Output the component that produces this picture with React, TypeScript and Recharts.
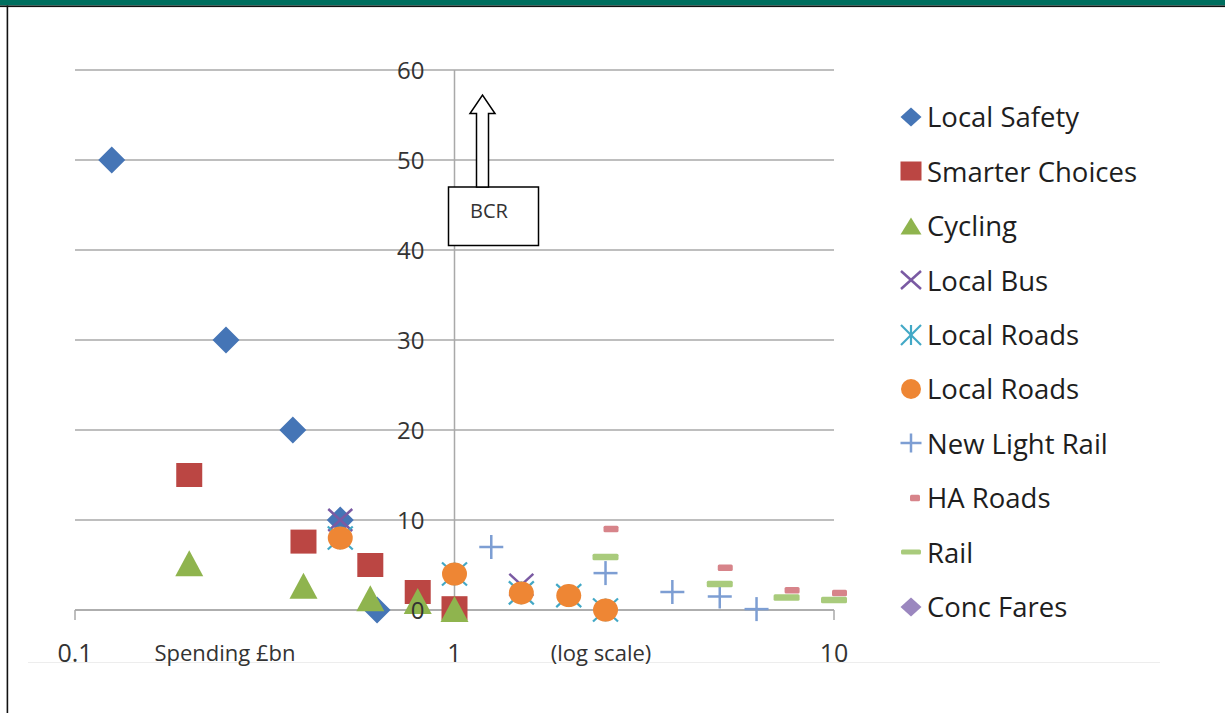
import React from 'react'
import {
  ScatterChart,
  Scatter,
  XAxis,
  YAxis,
  CartesianGrid,
  ReferenceLine,
  ReferenceDot,
  Legend,
} from 'recharts'

const FONT = '"Open Sans", "Noto Sans", sans-serif'
const AXIS = '#a9a9a9'
const LABEL = '#333333'

const X_TICKS = [0.1, 1, 10]
const Y_TICKS = [0, 10, 20, 30, 40, 50, 60]

// spending (£bn) and BCR per scheme type
const localSafetySpend = [0.125, 0.25, 0.375, 0.5, 0.625]
const localSafetyBcr = [50, 30, 20, 10, 0]
const smarterSpend = [0.2, 0.4, 0.6, 0.8, 1.0]
const smarterBcr = [15, 7.6, 5, 2, 0.2]
const cyclingSpend = [0.2, 0.4, 0.6, 0.8, 1.0]
const cyclingBcr = [5.2, 2.7, 1.3, 1.0, 0.1]
const busSpend = [0.5, 1.5]
const busBcr = [10, 2.8]
const roadsSpend = [0.5, 1.0, 1.5, 2.0, 2.5]
const roadsBcr = [8, 4, 1.9, 1.6, 0]
const lightRailSpend = [1.25, 2.5, 3.75, 5, 6.25]
const lightRailBcr = [7, 4.1, 2, 1.5, 0.1]
const haSpend = [2.5, 5, 7.5, 10]
const haBcr = [9, 4.7, 2.2, 1.9]
const railSpend = [2.5, 5, 7.5, 10]
const railBcr = [5.9, 2.9, 1.4, 1.1]
const concSpend: number[] = []
const concBcr: number[] = []

const zip = (xs: number[], ys: number[]) => xs.map((x, i) => ({ x, y: ys[i] }))

type Kind = 'diamond' | 'square' | 'triangle' | 'x' | 'star' | 'circle' | 'plus' | 'dash'

function marker(kind: Kind, cx: number, cy: number, w: number, h: number, color: string, dx = 0) {
  const hw = w / 2
  const hh = h / 2
  switch (kind) {
    case 'diamond':
      return <polygon points={`${cx},${cy - hh} ${cx + hw},${cy} ${cx},${cy + hh} ${cx - hw},${cy}`} fill={color} />
    case 'square':
      return <rect x={cx - hw} y={cy - hh} width={w} height={h} fill={color} />
    case 'triangle':
      return <polygon points={`${cx},${cy - hh} ${cx + hw},${cy + hh} ${cx - hw},${cy + hh}`} fill={color} />
    case 'circle':
      return <ellipse cx={cx} cy={cy} rx={hw} ry={hh} fill={color} />
    case 'x':
      return (
        <g stroke={color} strokeWidth={2.5}>
          <line x1={cx - hw} y1={cy - hh} x2={cx + hw} y2={cy + hh} />
          <line x1={cx - hw} y1={cy + hh} x2={cx + hw} y2={cy - hh} />
        </g>
      )
    case 'star':
      return (
        <g stroke={color} strokeWidth={2.2}>
          <line x1={cx - hw} y1={cy - hh} x2={cx + hw} y2={cy + hh} />
          <line x1={cx - hw} y1={cy + hh} x2={cx + hw} y2={cy - hh} />
          <line x1={cx} y1={cy - hh} x2={cx} y2={cy + hh} />
        </g>
      )
    case 'plus':
      return (
        <g stroke={color} strokeWidth={2.5}>
          <line x1={cx - hw} y1={cy} x2={cx + hw} y2={cy} />
          <line x1={cx} y1={cy - hh} x2={cx} y2={cy + hh} />
        </g>
      )
    case 'dash':
      return <rect x={cx + dx - hw} y={cy - hh} width={w} height={h} rx={1.5} fill={color} />
  }
}

type Series = {
  name: string
  data: { x: number; y: number }[]
  kind: Kind
  color: string
  w: number
  h: number
  lw: number
  lh: number
  dx?: number
}

const SERIES: Series[] = [
  { name: 'Local Safety', data: zip(localSafetySpend, localSafetyBcr), kind: 'diamond', color: '#4575b6', w: 27, h: 27, lw: 21, lh: 19 },
  { name: 'Smarter Choices', data: zip(smarterSpend, smarterBcr), kind: 'square', color: '#bb4643', w: 26, h: 24, lw: 21, lh: 19 },
  { name: 'Cycling', data: zip(cyclingSpend, cyclingBcr), kind: 'triangle', color: '#8fb44e', w: 28, h: 26, lw: 21, lh: 17 },
  { name: 'Local Bus', data: zip(busSpend, busBcr), kind: 'x', color: '#7a5aa3', w: 24, h: 22, lw: 20, lh: 18 },
  { name: 'Local Roads', data: zip(roadsSpend, roadsBcr), kind: 'star', color: '#42a8c6', w: 25, h: 23, lw: 20, lh: 20 },
  { name: 'Local Roads', data: zip(roadsSpend, roadsBcr), kind: 'circle', color: '#ee8634', w: 25, h: 23, lw: 20, lh: 20 },
  { name: 'New Light Rail', data: zip(lightRailSpend, lightRailBcr), kind: 'plus', color: '#7d9ed3', w: 24, h: 24, lw: 21, lh: 19 },
  { name: 'HA Roads', data: zip(haSpend, haBcr), kind: 'dash', color: '#d7848a', w: 15, h: 6.5, lw: 10, lh: 6.5, dx: 5.5 },
  { name: 'Rail', data: zip(railSpend, railBcr), kind: 'dash', color: '#a9cb7c', w: 26, h: 6.5, lw: 20, lh: 5 },
  { name: 'Conc Fares', data: zip(concSpend, concBcr), kind: 'diamond', color: '#9b87bf', w: 27, h: 27, lw: 21, lh: 19 },
]

const XTick = ({ x, y, payload }: any) => (
  <text x={x} y={y + 30} textAnchor="middle" dominantBaseline="central" fontSize={25} fill={LABEL} fontFamily={FONT}>
    {payload.value}
  </text>
)

const renderLegend = () => (
  <div style={{ fontFamily: FONT }}>
    {SERIES.map((s, i) => (
      <div key={i} style={{ display: 'flex', alignItems: 'center', height: 54.4 }}>
        <svg width={24} height={24} style={{ flex: 'none' }}>
          {marker(s.kind, 12, 12, s.lw, s.lh, s.color, s.kind === 'dash' && s.dx ? 4 : 0)}
        </svg>
        <span style={{ marginLeft: 4, fontSize: 27.5, color: '#1e1e1e', whiteSpace: 'nowrap' }}>{s.name}</span>
      </div>
    ))}
  </div>
)

export default function App() {
  return (
    <div style={{ position: 'absolute', left: 0, top: 0, width: 1225, height: 713, background: '#fff', overflow: 'hidden' }}>
      <ScatterChart width={1225} height={713} margin={{ top: 70, right: 391, bottom: 53, left: 75 }}>
        <CartesianGrid vertical={false} stroke={AXIS} strokeWidth={1.5} />
        <XAxis
          type="number"
          dataKey="x"
          scale="log"
          domain={[0.1, 10]}
          ticks={X_TICKS}
          interval={0}
          stroke={AXIS}
          strokeWidth={1.5}
          tickSize={10}
          tickLine={{ stroke: AXIS, strokeWidth: 1.5 }}
          tick={<XTick />}
          height={50}
        />
        <YAxis type="number" dataKey="y" domain={[0, 60]} ticks={Y_TICKS} hide />
        <ReferenceLine x={1} stroke={AXIS} strokeWidth={1.5} />
        {Y_TICKS.map((v) => (
          <ReferenceDot
            key={v}
            x={1}
            y={v}
            r={0}
            fill="none"
            stroke="none"
            label={{ value: String(v), position: 'left', offset: 30, fill: LABEL, fontSize: 24, fontFamily: FONT }}
          />
        ))}
        {SERIES.map((s, i) => (
          <Scatter
            key={i}
            name={s.name}
            data={s.data}
            fill={s.color}
            isAnimationActive={false}
            shape={(p: any) => marker(s.kind, p.cx, p.cy, s.w, s.h, s.color, s.dx || 0) as any}
          />
        ))}
        <Legend
          layout="vertical"
          align="center"
          verticalAlign="middle"
          content={renderLegend}
          wrapperStyle={{ left: 899, top: 89.8, width: 320 }}
        />
      </ScatterChart>

      <svg width={1225} height={713} style={{ position: 'absolute', left: 0, top: 0, pointerEvents: 'none' }}>
        <rect x={0} y={0} width={1225} height={5.5} fill="#006f5f" />
        <rect x={0} y={5.5} width={1225} height={1.6} fill="#111" />
        <rect x={6.6} y={5.5} width={1.6} height={708} fill="#111" />
        <line x1={28} y1={662.5} x2={1160} y2={662.5} stroke="#ededed" strokeWidth={1} />
        <text x={225} y={652} textAnchor="middle" dominantBaseline="central" fontSize={22} fill={LABEL} fontFamily={FONT}>
          Spending £bn
        </text>
        <text x={601} y={652} textAnchor="middle" dominantBaseline="central" fontSize={22} fill={LABEL} fontFamily={FONT}>
          (log scale)
        </text>
        <rect x={448.5} y={187} width={90} height={58.5} fill="#fff" stroke="#000" strokeWidth={1.5} />
        <text x={489} y={210} textAnchor="middle" dominantBaseline="central" fontSize={20} fill={LABEL} fontFamily={FONT}>
          BCR
        </text>
        <polygon
          points="476.5,187 476.5,113.5 470,113.5 482.5,95 495,113.5 488.5,113.5 488.5,187"
          fill="#fff"
          stroke="#000"
          strokeWidth={1.5}
        />
      </svg>
    </div>
  )
}
